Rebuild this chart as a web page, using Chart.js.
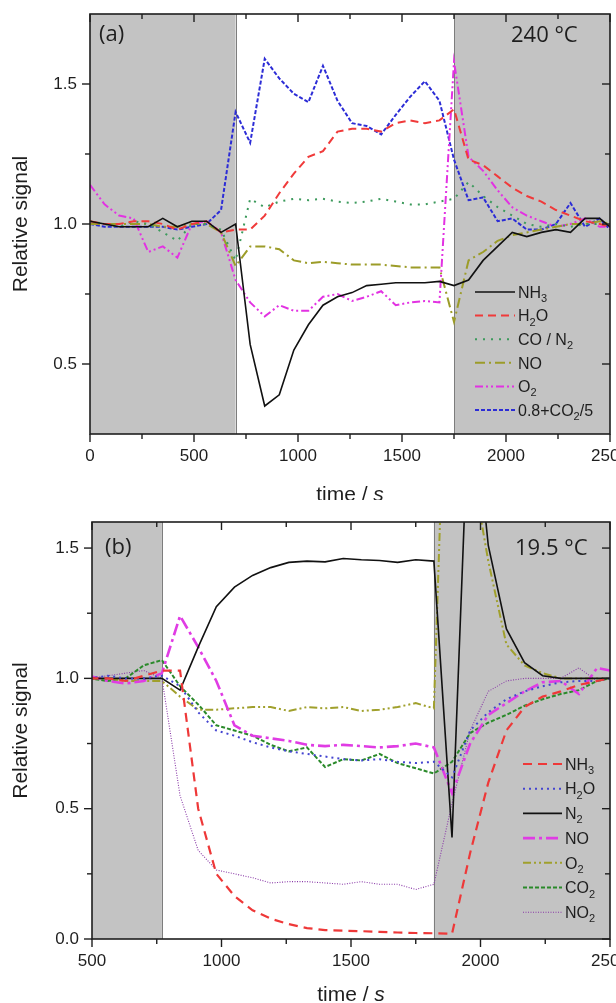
<!DOCTYPE html>
<html><head><meta charset="utf-8">
<script src="https://cdn.jsdelivr.net/npm/chart.js@4.4.0/dist/chart.umd.min.js"></script>
<style>
html,body{margin:0;padding:0;background:#fff;}
#wrap{position:relative;width:616px;height:1003px;overflow:hidden;}
.box{position:absolute;left:0;width:616px;}
</style></head><body>
<div id="wrap">
<div class="box" style="top:0;height:500px"><canvas id="cA"></canvas></div>
<div class="box" style="top:500px;height:503px"><canvas id="cB"></canvas></div>
</div>
<script>
// ---------- Panel (a): 240 °C ----------
const tTop = [0,70,140,210,280,350,420,490,560,630,700,770,840,910,980,1050,1120,1190,1260,1330,1400,1470,1540,1610,1680,1750,1820,1890,1960,2030,2100,2170,2240,2310,2380,2450,2500];
const nh3Top = [1.01,1.00,0.99,0.99,0.99,1.02,0.99,1.01,1.01,0.97,1.00,0.57,0.35,0.39,0.55,0.64,0.71,0.74,0.755,0.78,0.785,0.79,0.79,0.79,0.795,0.78,0.80,0.87,0.92,0.97,0.955,0.97,0.98,0.97,1.02,1.02,0.99];
const h2oTop = [1.01,1.00,1.00,1.01,1.01,1.00,0.98,1.00,1.01,0.97,0.98,0.98,1.03,1.11,1.18,1.24,1.26,1.33,1.34,1.34,1.33,1.36,1.37,1.36,1.37,1.41,1.23,1.21,1.17,1.13,1.10,1.08,1.05,1.03,1.01,1.00,0.99];
const coTop = [1.01,1.00,0.99,1.01,1.00,0.97,0.94,1.00,1.00,0.98,0.87,1.09,1.06,1.08,1.09,1.085,1.09,1.08,1.075,1.08,1.09,1.08,1.07,1.07,1.08,1.09,1.15,1.10,1.06,1.03,1.00,0.99,1.00,0.99,1.00,1.00,0.99];
const noTop = [1.00,1.00,1.00,1.00,1.00,0.99,0.99,1.00,1.00,0.97,0.85,0.92,0.92,0.91,0.87,0.86,0.865,0.86,0.855,0.855,0.855,0.85,0.845,0.845,0.845,0.65,0.87,0.90,0.94,0.96,0.97,0.98,0.99,1.00,1.00,1.01,1.00];
const o2Top = [1.14,1.07,1.03,1.02,0.90,0.92,0.88,1.00,1.01,0.97,0.80,0.72,0.67,0.71,0.69,0.69,0.74,0.75,0.725,0.74,0.76,0.71,0.72,0.725,0.72,1.58,1.24,1.19,1.12,1.06,1.03,1.01,0.99,1.00,1.02,0.99,0.99];
const co2Top = [1.00,0.99,0.99,0.99,0.99,0.99,0.98,0.99,1.00,1.05,1.40,1.29,1.59,1.52,1.465,1.435,1.565,1.44,1.36,1.35,1.32,1.39,1.455,1.51,1.44,1.23,1.085,1.095,1.01,1.02,0.98,0.98,1.00,1.075,0.99,1.02,0.98];
const labelsTop = ['NH_3','H_2O','CO / N_2','NO','O_2','0.8+CO_2/5'];
const shadeTop = [[0,700],[1750,2500]];
const xMajorTop = [0,500,1000,1500,2000,2500];
const xMinorTop = [250,750,1250,1750,2250];
const yMajorTop = [0.5,1.0,1.5];
const yMinorTop = [0.75,1.25];

// ---------- Panel (b): 19.5 °C ----------
const tBot = [490,560,630,700,770,840,910,980,1050,1120,1190,1260,1330,1400,1470,1540,1610,1680,1750,1820,1890,1960,2030,2100,2170,2240,2310,2380,2450,2500];
const nh3Bot = [1.00,1.00,0.99,1.01,1.03,1.03,0.50,0.25,0.165,0.11,0.078,0.057,0.042,0.034,0.032,0.03,0.027,0.025,0.023,0.022,0.02,0.33,0.60,0.80,0.89,0.93,0.95,0.975,0.99,1.00];
const h2oBot = [1.00,1.01,1.00,1.00,1.01,0.97,0.87,0.80,0.78,0.755,0.735,0.72,0.71,0.70,0.69,0.685,0.69,0.68,0.675,0.68,0.62,0.80,0.87,0.92,0.95,0.97,0.985,0.99,0.99,1.00];
const n2Bot = [1.00,1.00,1.00,1.00,1.00,0.955,1.12,1.275,1.35,1.395,1.425,1.445,1.45,1.447,1.46,1.455,1.452,1.445,1.455,1.45,0.39,2.20,1.51,1.19,1.06,1.01,1.00,1.00,1.00,1.00];
const noBot = [1.01,0.99,0.98,0.99,1.02,1.24,1.12,0.99,0.82,0.78,0.77,0.76,0.745,0.74,0.745,0.74,0.735,0.74,0.75,0.735,0.56,0.75,0.86,0.905,0.95,0.985,0.99,0.94,1.04,1.03];
const o2Bot = [1.00,1.00,0.99,0.99,0.99,0.93,0.88,0.88,0.885,0.89,0.89,0.875,0.89,0.885,0.89,0.875,0.88,0.89,0.905,0.885,3.00,1.85,1.45,1.13,1.05,1.02,1.00,1.00,1.00,1.00];
const co2Bot = [1.00,0.99,1.00,1.05,1.07,0.97,0.90,0.82,0.80,0.78,0.745,0.72,0.735,0.66,0.69,0.685,0.71,0.675,0.655,0.635,0.68,0.79,0.83,0.86,0.895,0.92,0.94,0.955,0.99,1.00];
const no2Bot = [1.00,1.01,1.02,1.03,1.00,0.55,0.34,0.265,0.25,0.235,0.215,0.22,0.22,0.215,0.21,0.22,0.21,0.21,0.19,0.21,0.52,0.80,0.95,0.99,1.00,1.00,1.00,1.04,0.99,1.00];
const labelsBot = ['NH_3','H_2O','N_2','NO','O_2','CO_2','NO_2'];
const shadeBot = [[500,770],[1820,2500]];
const xMajorBot = [500,1000,1500,2000,2500];
const xMinorBot = [750,1250,1750,2250];
const yMajorBot = [0.0,0.5,1.0,1.5];
const yMinorBot = [0.25,0.75,1.25];

const yTitle = 'Relative signal';
const xTitleMain = 'time / ';
const xTitleUnit = 's';
const panelA = '(a)', tempA = '240 °C';
const panelB = '(b)', tempB = '19.5 °C';

const SANS = "'Liberation Sans', Arial, sans-serif";
const ANN = "'Open Sans', sans-serif";
const INK = '#1e1e1e';

function pts(t, v) { return t.map((x, i) => ({x: x, y: v[i]})); }

function richText(ctx, str, x, yc, size, fam) {
  const segs = [];
  for (let i = 0; i < str.length; i++) {
    if (str[i] === '_') { segs.push({t: str[i+1], sub: true}); i++; }
    else if (segs.length && !segs[segs.length-1].sub) segs[segs.length-1].t += str[i];
    else segs.push({t: str[i], sub: false});
  }
  let cx = x;
  const base = yc + size * 0.36;
  ctx.textAlign = 'left'; ctx.textBaseline = 'alphabetic'; ctx.fillStyle = INK;
  for (const s of segs) {
    ctx.font = (s.sub ? Math.round(size * 0.66) : size) + 'px ' + fam;
    ctx.fillText(s.t, cx, s.sub ? base + size * 0.27 : base);
    cx += ctx.measureText(s.t).width;
  }
}

const decor = {
  id: 'decor',
  beforeDatasetsDraw(chart, args, o) {
    const {ctx, chartArea: a} = chart; const xs = chart.scales.x;
    ctx.save();
    ctx.beginPath(); ctx.rect(a.left, a.top, a.right - a.left, a.bottom - a.top); ctx.clip();
    for (const [s, e] of o.shade) {
      const p0 = xs.getPixelForValue(s), p1 = xs.getPixelForValue(e);
      ctx.fillStyle = '#c3c3c3';
      ctx.fillRect(p0, a.top, p1 - p0, a.bottom - a.top);
      ctx.strokeStyle = '#7d7d7d'; ctx.lineWidth = 1;
      for (const p of [p0, p1]) {
        if (p > a.left + 2 && p < a.right - 2) {
          ctx.beginPath(); ctx.moveTo(Math.round(p) + 0.5, a.top); ctx.lineTo(Math.round(p) + 0.5, a.bottom); ctx.stroke();
        }
      }
    }
    ctx.restore();
  },
  afterDatasetsDraw(chart, args, o) {
    const {ctx, chartArea: a, scales: {x, y}} = chart;
    ctx.save();
    ctx.strokeStyle = INK; ctx.lineWidth = 1.6;
    ctx.strokeRect(a.left, a.top, a.right - a.left, a.bottom - a.top);
    ctx.lineWidth = 1.4;
    const tick = (px, py, dx, dy) => { ctx.beginPath(); ctx.moveTo(px, py); ctx.lineTo(px + dx, py + dy); ctx.stroke(); };
    for (const [vals, len] of [[o.xMajor, 8], [o.xMinor, 5]]) for (const v of vals) {
      const p = x.getPixelForValue(v); tick(p, a.bottom, 0, len); tick(p, a.top, 0, len);
    }
    for (const [vals, len] of [[o.yMajor, 8], [o.yMinor, 5]]) for (const v of vals) {
      const p = y.getPixelForValue(v); tick(a.left, p, -len, 0); tick(a.right, p, -len, 0);
    }
    // panel annotations
    ctx.fillStyle = INK; ctx.textBaseline = 'alphabetic';
    ctx.font = '22px ' + ANN;
    ctx.textAlign = 'left'; ctx.fillText(o.panel, o.panelX, o.panelY);
    ctx.fillText(o.temp, o.tempX, o.tempY);
    // legend
    const ds = chart.data.datasets;
    ds.forEach((d, i) => {
      const yc = o.legY + i * o.legDy;
      ctx.save();
      ctx.strokeStyle = d.borderColor; ctx.lineWidth = d.borderWidth;
      ctx.setLineDash(d.borderDash || []);
      ctx.beginPath(); ctx.moveTo(o.legX0, yc); ctx.lineTo(o.legX1, yc); ctx.stroke();
      ctx.restore();
      richText(ctx, o.labels[i], o.legX1 + 3, yc, 16, SANS);
    });
    // x title with italic unit
    ctx.fillStyle = INK; ctx.textAlign = 'left'; ctx.textBaseline = 'alphabetic';
    ctx.font = '21px ' + SANS; const w1 = ctx.measureText(xTitleMain).width;
    ctx.font = 'italic 21px ' + SANS; const w2 = ctx.measureText(xTitleUnit).width;
    const cx = (a.left + a.right) / 2 - (w1 + w2) / 2;
    ctx.font = '21px ' + SANS; ctx.fillText(xTitleMain, cx, o.xTitleY);
    ctx.font = 'italic 21px ' + SANS; ctx.fillText(xTitleUnit, cx + w1, o.xTitleY);
    ctx.restore();
  }
};

function makeChart(id, cfg) {
  const fontT = {family: SANS, size: 17};
  return new Chart(document.getElementById(id), {
    type: 'line',
    data: {datasets: cfg.datasets},
    options: {
      responsive: true, maintainAspectRatio: false, animation: false,
      parsing: false, normalized: true,
      layout: {padding: {top: cfg.padTop, right: 6, left: 0, bottom: 0}},
      elements: {point: {radius: 0}, line: {tension: 0, fill: false}},
      plugins: {legend: {display: false}, tooltip: {enabled: false},
        decor: cfg.decor},
      scales: {
        x: {type: 'linear', min: cfg.xMin, max: 2500,
          afterBuildTicks: s => { s.ticks = cfg.decor.xMajor.map(v => ({value: v})); },
          ticks: {font: fontT, color: INK, padding: 12, maxRotation: 0, autoSkip: false, callback: v => String(v)},
          grid: {display: false, drawTicks: false}, border: {display: false},
          afterFit: s => { s.height = cfg.xH; s.paddingLeft = 0; s.paddingRight = 0; }
        },
        y: {type: 'linear', min: cfg.yMin, max: cfg.yMax,
          afterBuildTicks: s => { s.ticks = cfg.decor.yMajor.map(v => ({value: v})); },
          ticks: {font: fontT, color: INK, padding: 13, callback: v => Number(v).toFixed(1)},
          grid: {display: false, drawTicks: false}, border: {display: false},
          title: {display: true, text: yTitle, color: INK, font: {family: SANS, size: 21}, padding: {top: 9, bottom: 0}},
          afterFit: s => { s.width = cfg.yW; s.paddingTop = 0; s.paddingBottom = 0; }
        }
      }
    },
    plugins: [decor]
  });
}

function ds(t, v, color, width, dash) {
  return {data: pts(t, v), borderColor: color, borderWidth: width, borderDash: dash, pointRadius: 0};
}

makeChart('cA', {
  padTop: 14, xH: 66, yW: 90, xMin: 0, yMin: 0.25, yMax: 1.75,
  datasets: [
    ds(tTop, nh3Top, '#111111', 1.6, []),
    ds(tTop, h2oTop, '#f03a3a', 2, [8, 5]),
    ds(tTop, coTop, '#3c9a5c', 2, [2, 6]),
    ds(tTop, noTop, '#9c9c28', 2, [10, 4, 2, 4]),
    ds(tTop, o2Top, '#e232e2', 2, [8, 3, 2, 3, 2, 3]),
    ds(tTop, co2Top, '#2c2cd6', 2, [4, 2])
  ],
  decor: {shade: shadeTop, xMajor: xMajorTop, xMinor: xMinorTop, yMajor: yMajorTop, yMinor: yMinorTop,
    panel: panelA, panelX: 99, panelY: 41, temp: tempA, tempX: 511, tempY: 42,
    labels: labelsTop, legX0: 475, legX1: 515, legY: 292, legDy: 23.6, xTitleY: 501}
});

makeChart('cB', {
  padTop: 22, xH: 64, yW: 92, xMin: 500, yMin: 0, yMax: 1.6,
  datasets: [
    ds(tBot, nh3Bot, '#ee3838', 2.2, [9, 6]),
    ds(tBot, h2oBot, '#4444d0', 2, [2, 4]),
    ds(tBot, n2Bot, '#111111', 1.6, []),
    ds(tBot, noBot, '#e03ce4', 2.6, [12, 4, 3, 4]),
    ds(tBot, o2Bot, '#a0a02c', 2, [8, 3, 2, 3, 2, 3]),
    ds(tBot, co2Bot, '#2a8a2a', 2, [4, 2]),
    ds(tBot, no2Bot, '#8a3aa8', 1.1, [1, 1.5])
  ],
  decor: {shade: shadeBot, xMajor: xMajorBot, xMinor: xMinorBot, yMajor: yMajorBot, yMinor: yMinorBot,
    panel: panelB, panelX: 105, panelY: 54, temp: tempB, tempX: 515, tempY: 55,
    labels: labelsBot, legX0: 523, legX1: 562, legY: 264, legDy: 24.7, xTitleY: 501}
});
</script>
</body></html>
